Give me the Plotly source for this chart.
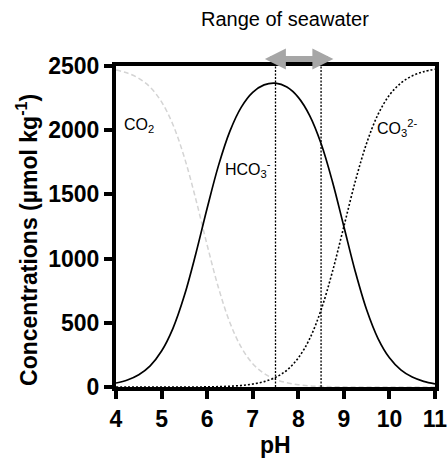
import plotly.graph_objects as go

# ---- data ----
ph = [4.0, 4.25, 4.5, 4.75, 5.0, 5.25, 5.5, 5.75, 6.0, 6.25, 6.5, 6.75, 7.0, 7.25,
      7.5, 7.75, 8.0, 8.25, 8.5, 8.75, 9.0, 9.25, 9.5, 9.75, 10.0, 10.25, 10.5, 10.75, 11.0]
co2 = [2469, 2445, 2404, 2335, 2220, 2043, 1788, 1464, 1106, 771, 501, 308, 182, 105,
       59, 33, 18, 9, 5, 2, 1, 0, 0, 0, 0, 0, 0, 0, 0]
hco3 = [31, 55, 96, 165, 280, 457, 712, 1036, 1392, 1726, 1993, 2180, 2295, 2353,
        2366, 2336, 2256, 2114, 1896, 1599, 1250, 900, 601, 377, 227, 133, 77, 44, 25]
co3 = [0, 0, 0, 0, 0, 0, 0, 0, 1, 3, 6, 12, 23, 42,
       75, 131, 226, 376, 600, 899, 1250, 1600, 1899, 2123, 2273, 2367, 2423, 2456, 2475]
seawater_range = [7.5, 8.5]
x_ticks = [4, 5, 6, 7, 8, 9, 10, 11]
y_ticks = [0, 500, 1000, 1500, 2000, 2500]
species_labels = ["CO<sub>2</sub>", "HCO<sub>3</sub><sup>-</sup>", "CO<sub>3</sub><sup>2-</sup>"]
label_x = [4.14, 6.34, 9.69]
label_y = [2037, 1700, 2014]

FONT = "Liberation Sans, Arial, sans-serif"

fig = go.Figure()
fig.add_trace(go.Scatter(x=ph, y=co2, mode="lines", line=dict(color="#d4d4d4", width=1.5, dash="5px,3px", shape="spline"), showlegend=False))
fig.add_trace(go.Scatter(x=ph, y=hco3, mode="lines", line=dict(color="black", width=1.7, shape="spline"), showlegend=False))
fig.add_trace(go.Scatter(x=ph, y=co3, mode="lines", line=dict(color="black", width=1.6, dash="2px,2px", shape="spline"), showlegend=False))

for xv in seawater_range:
    fig.add_shape(type="line", xref="x", yref="y", x0=xv, x1=xv, y0=0, y1=y_ticks[-1],
                  line=dict(color="black", width=1.3, dash="2px,1.5px"))

for t, xv, yv in zip(species_labels, label_x, label_y):
    fig.add_annotation(x=xv, y=yv, xref="x", yref="y", text=t, showarrow=False,
                       xanchor="left", yanchor="middle", font=dict(family=FONT, size=16, color="black"))

# range arrow
fig.add_annotation(x=8.77, y=1.022, xref="x", yref="paper", ax=-70, ay=0, axref="pixel", ayref="pixel",
                   text="", showarrow=True, arrowhead=2, startarrowhead=2, arrowside="end+start",
                   arrowsize=0.7, startarrowsize=0.7, arrowwidth=6, arrowcolor="#a6a6a6", standoff=0, startstandoff=0)
fig.add_annotation(x=7.71, y=1.146, xref="x", yref="paper", text="Range of seawater", showarrow=False,
                   xanchor="center", yanchor="middle", font=dict(family=FONT, size=20, color="black"))

# axis titles as annotations
fig.add_annotation(x=-0.279, y=0.458, xref="paper", yref="paper", text="<b>Concentrations (µmol kg<sup>-1</sup>)</b>",
                   textangle=-90, showarrow=False, xanchor="center", yanchor="middle",
                   font=dict(family=FONT, size=23, color="black"))
fig.add_annotation(x=0.5, y=-0.18, xref="paper", yref="paper", text="<b>pH</b>", showarrow=False,
                   xanchor="center", yanchor="middle", font=dict(family=FONT, size=23, color="black"))

axis_common = dict(showline=True, linecolor="black", linewidth=4, mirror=True, ticks="outside",
                   tickwidth=4, tickcolor="black", ticklen=8, showgrid=False, zeroline=False,
                   automargin=False, ticklabeloverflow="allow",
                   tickfont=dict(family=FONT, size=23, color="black", weight="bold"))
fig.update_xaxes(range=[x_ticks[0], x_ticks[-1]], tickvals=x_ticks, **axis_common)
fig.update_yaxes(range=[y_ticks[0], y_ticks[-1]], tickvals=y_ticks, **axis_common)

fig.update_layout(width=447, height=461, margin=dict(l=116, r=12, t=66, b=74, autoexpand=False),
                  plot_bgcolor="white", paper_bgcolor="white", font=dict(family=FONT))

fig.write_html("out.html", config={"displayModeBar": False},
               post_script="document.body.style.margin='0';document.body.style.overflow='hidden';")
